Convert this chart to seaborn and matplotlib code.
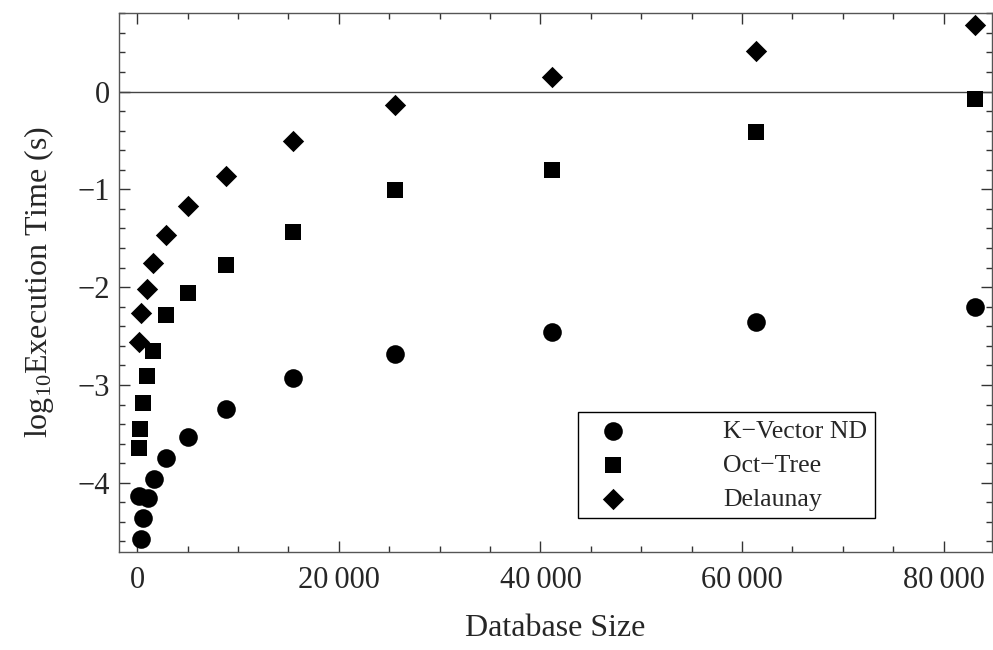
import matplotlib
matplotlib.use("Agg")
import matplotlib.pyplot as plt
import seaborn as sns
import pandas as pd
from matplotlib.ticker import MultipleLocator, FuncFormatter

# ---- data ----
kvec_x = [150, 370, 530, 1030, 1650, 2850, 5050, 8830, 15450, 25550, 41150, 61400, 83100]
kvec_y = [-4.14, -4.58, -4.36, -4.16, -3.965, -3.75, -3.53, -3.25, -2.93, -2.687, -2.46, -2.359, -2.20]

oct_x = [200, 300, 530, 930, 1590, 2850, 5000, 8830, 15450, 25550, 41110, 61380, 83100]
oct_y = [-3.64, -3.45, -3.18, -2.91, -2.65, -2.28, -2.056, -1.773, -1.438, -1.006, -0.80, -0.409, -0.078]

del_x = [200, 370, 930, 1590, 2817, 5040, 8830, 15450, 25550, 41110, 61380, 83100]
del_y = [-2.56, -2.26, -2.02, -1.756, -1.466, -1.17, -0.862, -0.504, -0.136, 0.147, 0.416, 0.682]

series_names = ["K\u2212Vector ND", "Oct\u2212Tree", "Delaunay"]
x_ticks = [0, 20000, 40000, 60000, 80000]
y_ticks = [-4, -3, -2, -1, 0]

# ---- style ----
sns.set_theme(style="ticks")
plt.rcParams["font.family"] = ["Liberation Serif", "DejaVu Serif"]
plt.rcParams["mathtext.fontset"] = "custom"
plt.rcParams["mathtext.rm"] = "Liberation Serif"
plt.rcParams["mathtext.it"] = "Liberation Serif:italic"
plt.rcParams["mathtext.bf"] = "Liberation Serif:bold"
plt.rcParams["axes.unicode_minus"] = True

fig = plt.figure(figsize=(9.93, 6.5), dpi=100)
ax = fig.add_axes([0.1201, 0.1512, 0.8789, 0.8283])

ax.axhline(0, color="#444444", lw=1.0, zorder=1)

sns.scatterplot(x=kvec_x, y=kvec_y, marker="o", s=180, color="black",
                edgecolor="black", linewidth=0, label=series_names[0], ax=ax, zorder=3)
sns.scatterplot(x=oct_x, y=oct_y, marker="s", s=135, color="black",
                edgecolor="black", linewidth=0, label=series_names[1], ax=ax, zorder=3)
sns.scatterplot(x=del_x, y=del_y, marker="D", s=118, color="black",
                edgecolor="black", linewidth=0, label=series_names[2], ax=ax, zorder=3)

ax.set_xlim(-1790, 84800)
ax.set_ylim(-4.705, 0.8)

ax.set_xticks(x_ticks)
ax.set_yticks(y_ticks)
ax.xaxis.set_minor_locator(MultipleLocator(5000))
ax.yaxis.set_minor_locator(MultipleLocator(0.2))
ax.xaxis.set_major_formatter(FuncFormatter(lambda v, _: f"{int(round(v)):,}".replace(",", "\u2009")))

ax.tick_params(which="both", direction="in", top=True, right=True,
               color="#333333", width=1.0)
ax.tick_params(which="major", length=8, labelsize=22)
ax.tick_params(which="minor", length=4.5)
ax.tick_params(axis="x", which="major", pad=10)
ax.tick_params(axis="y", which="major", pad=7)

for sp in ax.spines.values():
    sp.set_color("#555555")
    sp.set_linewidth(1.0)

ax.set_xlabel("Database Size", fontsize=23, labelpad=14)
ax.set_ylabel(r"log$_{10}$Execution Time (s)", fontsize=23, labelpad=15)

leg = ax.legend(loc="lower left", bbox_to_anchor=(0.526, 0.062), borderaxespad=0,
                frameon=True, fancybox=False, edgecolor="black", framealpha=1,
                fontsize=18.5, handlelength=2.12, handletextpad=3.22,
                borderpad=0.3, labelspacing=0.43)
leg.get_frame().set_linewidth(1.0)

fig.savefig("out.png", dpi=100)
